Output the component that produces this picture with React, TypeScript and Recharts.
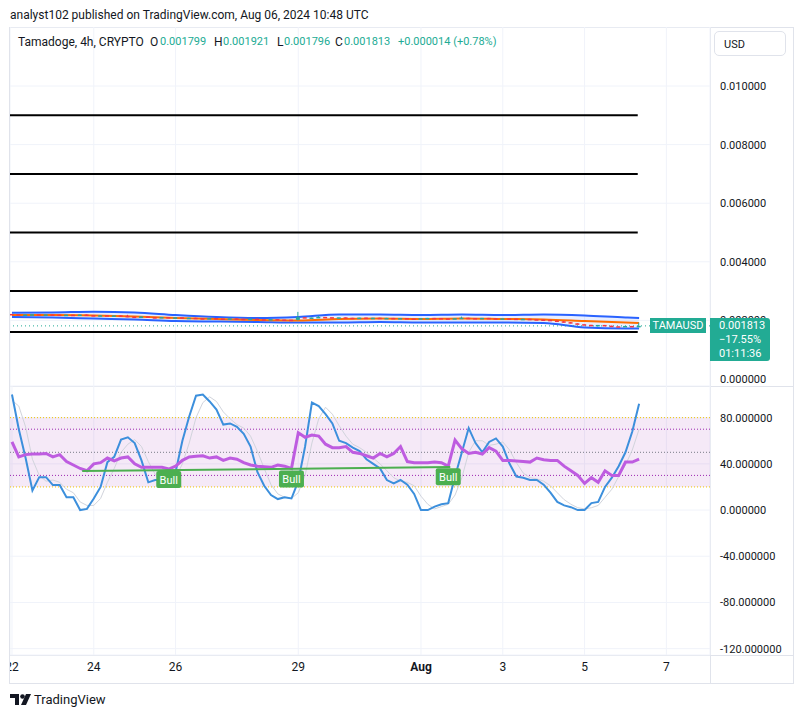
import React from 'react';
import {
  ComposedChart,
  Line,
  Area,
  Bar,
  XAxis,
  YAxis,
  CartesianGrid,
  ReferenceLine,
  ReferenceArea,
  ReferenceDot,
} from 'recharts';

// x axis: 4h bars counted from Jul 22 00:00
const dayTicks = [0, 12, 24, 42, 60, 72, 84, 96];
const dayLabels = ['22', '24', '26', '29', 'Aug', '3', '5', '7'];
const barDomain = [-0.29, 102.4];

// price pane (values x 1e-6)
const firstOpen = 2220;
const closes = [
  2215, 2190, 2200, 2210, 2195, 2205, 2200, 2185, 2195, 2190,
  2200, 2180, 2165, 2175, 2160, 2170, 2155, 2130, 2120, 2135,
  2110, 2100, 2115, 2095, 2105, 2080, 2090, 2075, 2070, 2080,
  2065, 2060, 2070, 2055, 2050, 2060, 2040, 2035, 2045, 2030,
  2025, 2020, 2110, 2090, 2100, 2120, 2110, 2095, 2105, 2090,
  2085, 2095, 2080, 2090, 2075, 2085, 2070, 2080, 2065, 2060,
  2075, 2085, 2080, 2070, 2060, 2075, 2090, 2080, 2070, 2085,
  2075, 2065, 2070, 2060, 2050, 2055, 2040, 2030, 2020, 1995,
  1970, 1940, 1900, 1870, 1850, 1830, 1845, 1820, 1800, 1790,
  1810, 1799, 1813,
];
// bars with a visible wick: [bar, high, low]
const wickBars = [17, 42, 45, 66, 81, 92];
const wickHighs = [2190, 2290, 2160, 2130, 1980, 1921];
const wickLows = [2110, 2000, 2090, 2060, 1920, 1796];

const bandBars = [0, 6, 12, 18, 24, 30, 36, 42, 48, 54, 60, 66, 72, 78, 84, 90, 92];
const upperBand = [2263, 2270, 2297, 2270, 2184, 2116, 2082, 2116, 2201, 2201, 2184, 2201, 2184, 2201, 2167, 2099, 2082];
const middleBand = [2184, 2184, 2167, 2133, 2082, 2048, 2014, 1997, 2048, 2065, 2048, 2065, 2048, 2031, 1980, 1928, 1911];
const lowerBand = [2116, 2099, 2065, 2031, 1980, 1962, 1945, 1928, 1928, 1945, 1928, 1928, 1928, 1911, 1758, 1724, 1724];

const priceTicks = [0, 0.002, 0.004, 0.006, 0.008, 0.01];
const priceDomain = [-0.000239, 0.012014];
const priceLevels = [0.009, 0.007, 0.005, 0.003, 0.0016];
const levelEndBar = 91.8;
const lastPrice = 0.001813;

// oscillator pane
const stochK = [
  100, 70, 45, 17, 28.5, 28.5, 21.6, 21.6, 11, 11,
  0, 1, 10, 20, 41.5, 46, 61, 63, 58, 43,
  24, 26, 26, 26, 33, 60, 81, 99, 100, 94,
  87, 74, 75, 72, 66, 55, 33, 21, 13, 9.5,
  11, 10, 25, 55, 93, 90, 83, 75, 60, 58,
  54, 51, 44, 40, 36, 26, 23, 26, 22, 14,
  0, 0, 3, 5, 6, 29, 50, 71, 58, 50,
  59, 62, 55, 40, 29, 28, 26, 26, 22, 15,
  7, 4, 2.5, 0, 0, 6, 7, 20, 28, 38,
  50, 68, 92,
];
const stochD = [
  95, 90, 72, 44, 30, 25, 26, 24, 18, 15,
  7, 4, 4, 10, 24, 36, 50, 57, 61, 55,
  42, 31, 25, 26, 28, 40, 58, 80, 93, 98,
  94, 85, 79, 74, 71, 64, 51, 36, 22, 14,
  11, 10, 15, 30, 58, 79, 89, 83, 73, 64,
  57, 54, 50, 45, 40, 34, 28, 25, 24, 21,
  12, 5, 1, 3, 5, 13, 28, 50, 60, 60,
  56, 57, 59, 52, 41, 32, 28, 27, 25, 21,
  15, 9, 5, 2, 1, 2, 4, 11, 18, 29,
  39, 52, 70,
];
const rsi = [
  59, 46, 48, 48.5, 48.5, 49, 46, 48, 42, 39,
  36, 34, 40, 41, 45, 42.5, 45, 46, 40, 37,
  37, 37, 37, 35.5, 38, 43, 46, 46.5, 47, 45,
  46, 43, 45, 44, 41, 39, 38, 37.5, 37, 39,
  38, 36, 67, 63, 65, 64, 57, 54, 54, 55,
  50, 49, 47, 45, 49, 46, 49, 55, 42, 41,
  41, 41, 41.5, 41, 38, 60.5, 53, 49, 50, 48.5,
  54, 51, 43, 43, 42.5, 42, 41.5, 45, 43.5, 43,
  43, 38, 34, 30, 23, 28, 24, 34, 30, 30,
  41.5, 41.5, 44,
];
const oscTicks = [80, 40, 0, -40, -80, -120];
const bullBars = [23, 41, 64];
const trendLine = [
  { x: 10.3, y: 33.8 },
  { x: 64.3, y: 37.2 },
];

const priceData = closes.map((c, i) => {
  const o = i === 0 ? firstOpen : closes[i - 1];
  const w = wickBars.indexOf(i);
  const hi = w >= 0 ? wickHighs[w] : Math.max(o, c);
  const lo = w >= 0 ? wickLows[w] : Math.min(o, c);
  const row: any = { bar: i, o: o / 1e6, c: c / 1e6, range: [lo / 1e6, hi / 1e6] };
  const b = bandBars.indexOf(i);
  if (b >= 0) {
    row.upper = upperBand[b] / 1e6;
    row.mid = middleBand[b] / 1e6;
    row.lower = lowerBand[b] / 1e6;
    row.band = [lowerBand[b] / 1e6, upperBand[b] / 1e6];
  }
  return row;
});

const oscData = stochK.map((k, i) => ({ bar: i, k, d: stochD[i], rsi: rsi[i] }));

const FONT = 'Roboto, "Noto Sans", sans-serif';
const TEXT = '#131722';
const TEAL = '#22ab94';
const BORDER = '#e0e3eb';
const GRID = '#f0f3fa';

const Candle = (props: any) => {
  const { x, y, width, height, payload } = props;
  if (!payload) return null;
  const [lo, hi] = payload.range;
  const cx = x + width / 2;
  const span = hi - lo || 1e-9;
  const yOf = (v: number) => y + ((hi - v) / span) * height;
  const top = yOf(Math.max(payload.o, payload.c));
  const bot = yOf(Math.min(payload.o, payload.c));
  const color = payload.c >= payload.o ? '#26a69a' : '#f23645';
  return (
    <g>
      <line x1={cx} x2={cx} y1={y} y2={y + height} stroke={color} strokeWidth={1} />
      <rect x={cx - 2} y={top} width={4} height={Math.max(bot - top, 1.5)} fill={color} />
    </g>
  );
};

const DayTick = (props: any) => {
  const { x, y, payload } = props;
  const label = dayLabels[dayTicks.indexOf(payload.value)];
  return (
    <text
      x={x}
      y={y}
      dy="0.71em"
      textAnchor="middle"
      fill={TEXT}
      fontSize={12}
      fontFamily={FONT}
      fontWeight={label === 'Aug' ? 700 : 400}
    >
      {label}
    </text>
  );
};

const BullLabel = (props: any) => {
  const { cx, cy } = props;
  return (
    <g>
      <rect x={cx - 12.5} y={cy + 2} width={25} height={17} rx={2} fill="#4caf50" />
      <text x={cx} y={cy + 15} textAnchor="middle" fill="#ffffff" fontSize={11} fontFamily={FONT}>
        Bull
      </text>
    </g>
  );
};

const axisTick = { fill: TEXT, fontSize: 11, fontFamily: FONT };

const abs = (left: number, top: number, extra: React.CSSProperties = {}): React.CSSProperties => ({
  position: 'absolute',
  left,
  top,
  whiteSpace: 'nowrap',
  ...extra,
});

export default function App() {
  const header = { fontSize: 12, lineHeight: '14px', color: TEXT };
  const value = { fontSize: 11, lineHeight: '14px', color: TEAL };
  return (
    <div
      style={{
        position: 'absolute',
        left: 0,
        top: 0,
        width: 802,
        height: 718,
        background: '#ffffff',
        fontFamily: FONT,
        overflow: 'hidden',
      }}
    >
      <div style={abs(10, 8, header)}>analyst102 published on TradingView.com, Aug 06, 2024 10:48 UTC</div>

      {/* frame */}
      <div style={abs(9, 27, { width: 783, height: 655, border: `1px solid ${BORDER}` })} />
      <div style={abs(710, 27, { width: 1, height: 656, background: BORDER })} />
      <div style={abs(9, 386, { width: 784, height: 1, background: BORDER })} />
      <div style={abs(9, 655, { width: 784, height: 1, background: BORDER })} />

      {/* price pane */}
      <div style={abs(10, 27)}>
        <ComposedChart width={783} height={359} data={priceData} margin={{ top: 0, right: 0, bottom: 0, left: 0 }}>
          <CartesianGrid stroke={GRID} />
          <XAxis dataKey="bar" type="number" domain={barDomain} ticks={dayTicks} allowDataOverflow hide />
          <YAxis
            orientation="right"
            width={83}
            type="number"
            domain={priceDomain}
            ticks={priceTicks}
            allowDataOverflow
            tickFormatter={(v: number) => v.toFixed(6)}
            tick={axisTick}
            tickLine={false}
            axisLine={false}
            tickMargin={4}
          />
          {priceLevels.map((lv) => (
            <ReferenceLine
              key={lv}
              segment={[
                { x: barDomain[0], y: lv },
                { x: levelEndBar, y: lv },
              ]}
              stroke="#000000"
              strokeWidth={2}
              ifOverflow="visible"
            />
          ))}
          <Area
            dataKey="band"
            type="monotone"
            fill="#2962ff"
            fillOpacity={0.1}
            stroke="none"
            connectNulls
            isAnimationActive={false}
          />
          <Line dataKey="upper" type="monotone" stroke="#2962ff" strokeWidth={2} dot={false} connectNulls isAnimationActive={false} />
          <Line dataKey="lower" type="monotone" stroke="#2962ff" strokeWidth={2} dot={false} connectNulls isAnimationActive={false} />
          <Line dataKey="mid" type="monotone" stroke="#ff6d00" strokeWidth={2} dot={false} connectNulls isAnimationActive={false} />
          <ReferenceLine y={lastPrice} stroke={TEAL} strokeDasharray="1 3" strokeWidth={1} />
        </ComposedChart>
      </div>
      {/* candles, drawn on top of the bands with the same scales */}
      <div style={abs(10, 27)}>
        <ComposedChart width={783} height={359} data={priceData} margin={{ top: 0, right: 83, bottom: 0, left: 0 }}>
          <XAxis dataKey="bar" type="number" domain={barDomain} allowDataOverflow hide />
          <YAxis type="number" domain={priceDomain} allowDataOverflow hide />
          <Bar dataKey="range" barSize={4} shape={<Candle />} isAnimationActive={false} />
        </ComposedChart>
      </div>

      {/* oscillator pane */}
      <div style={abs(10, 386)}>
        <ComposedChart width={783} height={297} data={oscData} margin={{ top: 0, right: 0, bottom: 0, left: 0 }}>
          <CartesianGrid stroke={GRID} />
          <XAxis
            dataKey="bar"
            type="number"
            domain={barDomain}
            ticks={dayTicks}
            interval={0}
            allowDataOverflow
            height={28}
            tick={<DayTick />}
            tickLine={false}
            axisLine={false}
            tickMargin={1}
          />
          <YAxis
            orientation="right"
            width={83}
            type="number"
            domain={[-125.5, 107.4]}
            ticks={oscTicks}
            allowDataOverflow
            tickFormatter={(v: number) => v.toFixed(6)}
            tick={axisTick}
            tickLine={false}
            axisLine={false}
            tickMargin={4}
          />
          <ReferenceArea y1={20} y2={80} fill="#9c27b0" fillOpacity={0.1} stroke="none" />
          <ReferenceLine y={80} stroke="#f0c400" strokeDasharray="1 2" />
          <ReferenceLine y={20} stroke="#f0c400" strokeDasharray="1 2" />
          <ReferenceLine y={70} stroke="#9c27b0" strokeDasharray="1 2" />
          <ReferenceLine y={30} stroke="#9c27b0" strokeDasharray="1 2" />
          <ReferenceLine y={50} stroke="#787b86" strokeDasharray="1 2" />
          <Line dataKey="d" type="linear" stroke="#d1d4dc" strokeWidth={1} dot={false} isAnimationActive={false} />
          <Line dataKey="k" type="linear" stroke="#3c8fdc" strokeWidth={2} dot={false} isAnimationActive={false} />
          <Line dataKey="rsi" type="linear" stroke="#be5ce0" strokeWidth={3} dot={false} isAnimationActive={false} />
          <ReferenceLine segment={trendLine} stroke="#4caf50" strokeWidth={2} ifOverflow="visible" />
          {bullBars.map((b) => (
            <ReferenceDot key={b} x={b} y={rsi[b]} r={0} shape={<BullLabel />} ifOverflow="visible" />
          ))}
        </ComposedChart>
      </div>

      {/* legend */}
      <div style={abs(18, 35, header)}>Tamadoge, 4h, CRYPTO</div>
      <div style={abs(150, 35, header)}>O</div>
      <div style={abs(160, 35, value)}>0.001799</div>
      <div style={abs(214, 35, header)}>H</div>
      <div style={abs(223, 35, value)}>0.001921</div>
      <div style={abs(277, 35, header)}>L</div>
      <div style={abs(284, 35, value)}>0.001796</div>
      <div style={abs(335, 35, header)}>C</div>
      <div style={abs(344, 35, value)}>0.001813</div>
      <div style={abs(398, 35, value)}>+0.000014 (+0.78%)</div>

      <div
        style={abs(714, 31, {
          width: 72,
          height: 25,
          border: `1px solid ${BORDER}`,
          borderRadius: 5,
          background: '#fff',
          fontSize: 11,
          lineHeight: '25px',
          color: TEXT,
          paddingLeft: 9,
          boxSizing: 'border-box',
        })}
      >
        USD
      </div>

      {/* last price labels */}
      <div
        style={abs(650, 318, {
          width: 56,
          height: 15,
          background: TEAL,
          color: '#fff',
          fontSize: 11,
          lineHeight: '15px',
          textAlign: 'center',
        })}
      >
        TAMAUSD
      </div>
      <div
        style={abs(710, 318, {
          width: 60,
          height: 43,
          background: TEAL,
          color: '#fff',
          fontSize: 11,
          lineHeight: '14px',
          paddingLeft: 9,
          paddingTop: 1,
          boxSizing: 'border-box',
          borderRadius: '0 3px 3px 0',
        })}
      >
        <div>0.001813</div>
        <div>−17.55%</div>
        <div>01:11:36</div>
      </div>

      {/* footer */}
      <svg style={abs(10, 694)} width={22} height={12}>
        <path d="M0 0 H9 V11 H5 V4 H0 Z" fill={TEXT} />
        <circle cx={12.5} cy={2.5} r={2.3} fill={TEXT} />
        <path d="M16 0 H21 L16 11 H11 Z" fill={TEXT} />
      </svg>
      <div style={abs(34, 692, { fontSize: 13, lineHeight: '16px', color: TEXT })}>TradingView</div>
    </div>
  );
}
